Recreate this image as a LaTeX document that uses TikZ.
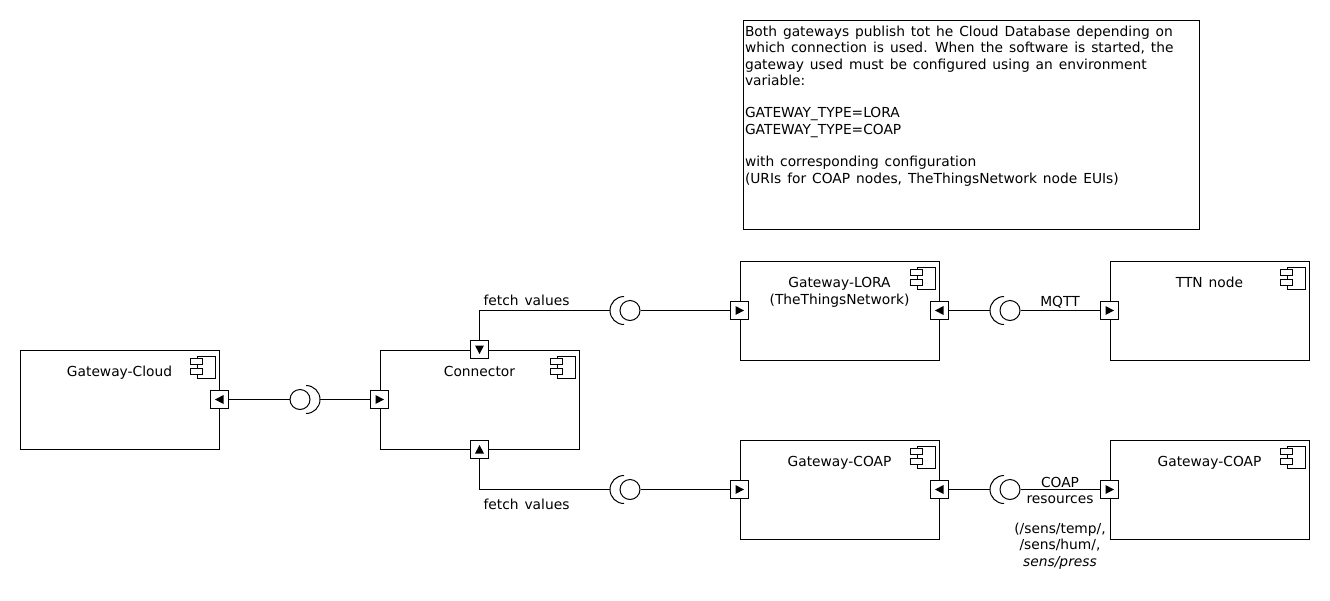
\documentclass[tikz,border=0pt]{standalone}
\usepackage{fontspec}
\setmainfont{DejaVu Sans}[WordSpace=1.35]
\usetikzlibrary{positioning}
\usetikzlibrary{calc}

\begin{document}
\begin{tikzpicture}[
  x=1pt, y=-1pt,
  line width=1pt,
  font=\fontsize{13.8}{16.3}\selectfont,
  comp/.style={draw, minimum width=199, minimum height=99, inner sep=0},
  title/.style={anchor=north, inner sep=0, align=center},
  port/.style={draw, fill=white, minimum size=18, inner sep=0},
  ball/.style={circle, draw, fill=white, minimum size=20, inner sep=0},
  lbl/.style={inner sep=0, align=center},
  notebox/.style={draw, minimum width=456, minimum height=209, inner sep=0}
]
\useasboundingbox (0,0) rectangle (1330,600);

% Note
\node[notebox] (note) at (971,124.5) {};
\node[lbl, anchor=north west, align=left] (notetext) at ($(note.north west)+(2,6)$) {Both gateways publish tot he Cloud Database depending on\\
which connection is used. When the software is started, the\\
gateway used must be configured using an environment\\
variable:\\[16.3pt]
GATEWAY\_TYPE=LORA\\
GATEWAY\_TYPE=COAP\\[16.3pt]
with corresponding configuration\\
(URIs for COAP nodes, TheThingsNetwork node EUIs)};

% Components
\node[comp] (cloud) at (119.5,399.5) {};
\node[comp] (conn) at (479.5,399.5) {};
\node[comp] (lora) at (839.5,310.5) {};
\node[comp] (ttn) at (1209.5,310.5) {};
\node[comp] (coap) at (839.5,489.5) {};
\node[comp] (coapnode) at (1209.5,489.5) {};
\node[title] (cloudT) at ($(cloud.north)+(0,16.5)$) {Gateway-Cloud};
\node[title] (connT0) at ($(conn.north)+(0,16.5)$) {Connector};
\node[title] (loraT) at ($(lora.north)+(0,16.5)$) {Gateway-LORA\\(TheThingsNetwork)};
\node[title] (ttnT) at ($(ttn.north)+(0,16.5)$) {TTN node};
\node[title] (coapT) at ($(coap.north)+(0,16.5)$) {Gateway-COAP};
\node[title] (coapnodeT) at ($(coapnode.north)+(0,16.5)$) {Gateway-COAP};

% Component icons
\foreach \c in {cloud,conn,lora,ttn,coap,coapnode} {
  \draw ($(\c.north east)+(-22,7)$) rectangle ($(\c.north east)+(-4,29)$);
  \draw[fill=white] ($(\c.north east)+(-29,9)$) rectangle +(12,6);
  \draw[fill=white] ($(\c.north east)+(-29,19)$) rectangle +(12,6);
}

% Ports
\node[port] (cloudR) at (cloud.east) {};
\node[port] (connL) at (conn.west) {};
\node[port] (connT) at (conn.north) {};
\node[port] (connB) at (conn.south) {};
\node[port] (loraL) at (lora.west) {};
\node[port] (loraR) at (lora.east) {};
\node[port] (ttnL) at (ttn.west) {};
\node[port] (coapL) at (coap.west) {};
\node[port] (coapR) at (coap.east) {};
\node[port] (coapnodeL) at (coapnode.west) {};
\foreach \p/\a in {cloudR/180, connL/0, connT/-90, connB/90, loraL/0, loraR/180, ttnL/0, coapL/0, coapR/180, coapnodeL/0}
  \fill[rotate around={\a:(\p)}] ($(\p)+(4.5,0)$) -- ($(\p)+(-4,-4.5)$) -- ($(\p)+(-4,4.5)$) -- cycle;

% Interfaces
\node[ball] (ball1) at (300,399.5) {};
\node[ball] (ball2) at (630,310.5) {};
\node[ball] (ball3) at (1010,310.5) {};
\node[ball] (ball4) at (630,489.5) {};
\node[ball] (ball5) at (1010,489.5) {};
\coordinate (sock1) at ($(ball1)+(20,0)$);
\coordinate (sock2) at ($(ball2)+(-20,0)$);
\coordinate (sock3) at ($(ball3)+(-20,0)$);
\coordinate (sock4) at ($(ball4)+(-20,0)$);
\coordinate (sock5) at ($(ball5)+(-20,0)$);
\draw ($(ball1)+(6,14)$) arc[start angle=-90, end angle=90, radius=14pt];
\draw ($(ball2)+(-6,-14)$) arc[start angle=90, end angle=270, radius=14pt];
\draw ($(ball3)+(-6,-14)$) arc[start angle=90, end angle=270, radius=14pt];
\draw ($(ball4)+(-6,-14)$) arc[start angle=90, end angle=270, radius=14pt];
\draw ($(ball5)+(-6,-14)$) arc[start angle=90, end angle=270, radius=14pt];

% Connectors
\draw (cloudR) -- (ball1);
\draw (sock1) -- (connL);
\draw (connT) |- (sock2);
\draw (ball2) -- (loraL);
\draw (loraR) -- (sock3);
\draw (ball3) -- (ttnL);
\draw (connB) |- (sock4);
\draw (ball4) -- (coapL);
\draw (coapR) -- (sock5);
\draw (ball5) -- (coapnodeL);

% Labels
\node[lbl, anchor=base] (fetchT) at (526.5,305) {fetch values};
\node[lbl, anchor=base] (fetchB) at (526.5,509) {fetch values};
\node[lbl, anchor=base] (mqtt) at (1060,306) {MQTT};
\node[lbl, anchor=north] (coapres) at (1060,476.5) {COAP\\resources};
\node[lbl, anchor=north] (paths) at (1060,522.5) {(/sens/temp/,\\/sens/hum/,\\\textit{sens/press}};

\end{tikzpicture}
\end{document}
